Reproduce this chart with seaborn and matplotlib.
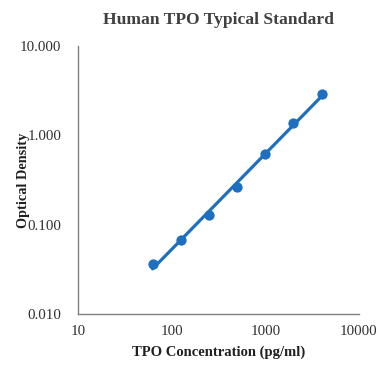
import numpy as np
import pandas as pd
import seaborn as sns
import matplotlib.pyplot as plt
from matplotlib.ticker import FixedLocator, LogLocator, NullFormatter

# Standard curve readings
concentration = [62.5, 125, 250, 500, 1000, 2000, 4000]
optical_density = [0.036, 0.067, 0.127, 0.265, 0.62, 1.38, 2.88]

x_ticks = [10, 100, 1000, 10000]
x_tick_labels = ["10", "100", "1000", "10000"]
y_ticks = [0.01, 0.1, 1, 10]
y_tick_labels = ["0.010", "0.100", "1.000", "10.000"]

df = pd.DataFrame({"conc": concentration, "od": optical_density})

# power trendline (linear fit in log-log space)
slope, intercept = np.polyfit(np.log10(df["conc"]), np.log10(df["od"]), 1)
fit_df = pd.DataFrame({"conc": df["conc"]})
fit_df["od"] = 10 ** (intercept + slope * np.log10(fit_df["conc"]))

sns.set_style("white")
plt.rcParams["font.family"] = ["Liberation Serif", "DejaVu Serif"]

blue = "#1f6fc1"
text_col = "#404040"

fig = plt.figure(figsize=(3.88, 3.91), dpi=100)
ax = fig.add_axes([0.201, 0.197, 0.724, 0.685])

sns.lineplot(data=fit_df, x="conc", y="od", color=blue, linewidth=2.3, ax=ax)
sns.scatterplot(data=df, x="conc", y="od", color=blue, s=55, edgecolor=blue, linewidth=0, ax=ax, zorder=3)

ax.set_xscale("log")
ax.set_yscale("log")
ax.set_xlim(10, 10000)
ax.set_ylim(0.01, 10)

ax.xaxis.set_major_locator(FixedLocator(x_ticks))
ax.set_xticklabels(x_tick_labels)
ax.yaxis.set_major_locator(FixedLocator(y_ticks))
ax.set_yticklabels(y_tick_labels)
ax.xaxis.set_minor_locator(LogLocator(base=10, subs=np.arange(2, 10)))
ax.yaxis.set_minor_locator(LogLocator(base=10, subs=np.arange(2, 10)))
ax.xaxis.set_minor_formatter(NullFormatter())
ax.yaxis.set_minor_formatter(NullFormatter())

ax.tick_params(axis="both", which="major", direction="in", length=0, labelsize=10.8,
               labelcolor="#303030", pad=8)
ax.tick_params(axis="both", which="minor", direction="in", length=3, width=0.8,
               color="#7f7f7f")
ax.tick_params(axis="y", which="major", pad=12)

for side in ["top", "right"]:
    ax.spines[side].set_visible(False)
for side in ["left", "bottom"]:
    ax.spines[side].set_color("#808080")
    ax.spines[side].set_linewidth(1.0)

ax.set_title("Human TPO Typical Standard", fontsize=12.6, fontweight="bold",
             color=text_col, pad=16)
ax.set_xlabel("TPO Concentration (pg/ml)", fontsize=10.5, fontweight="bold",
              color="#202020", labelpad=5)
ax.set_ylabel("Optical Density", fontsize=10.3, fontweight="bold",
              color="#202020")
ax.yaxis.set_label_coords(-0.172, 0.5)

fig.savefig("out.png", dpi=100)
